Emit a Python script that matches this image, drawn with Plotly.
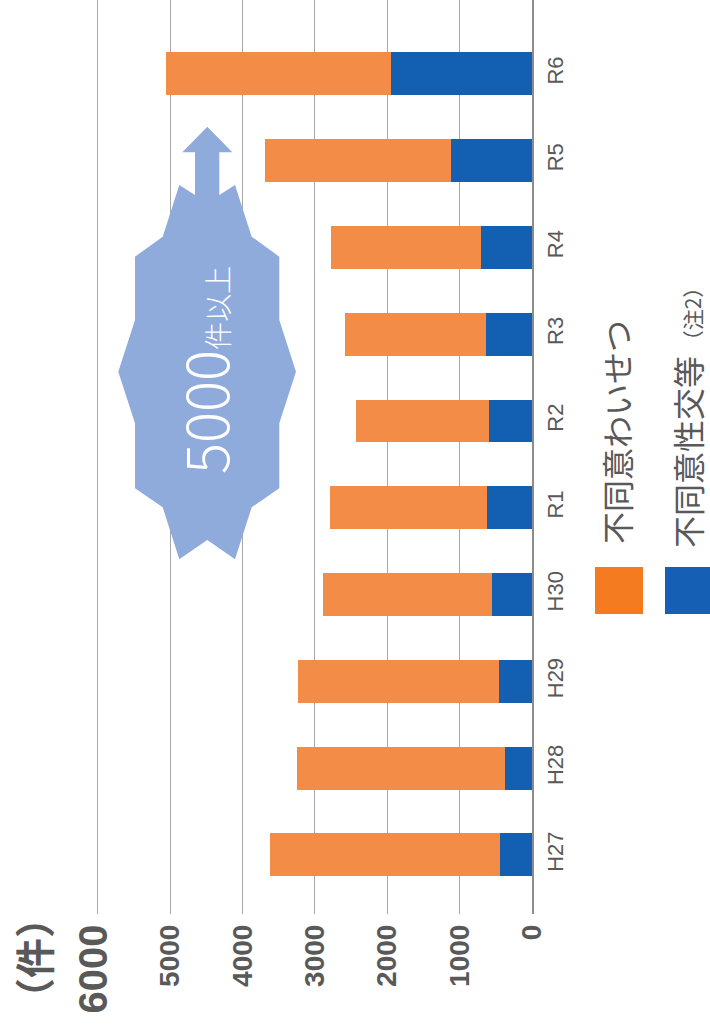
import plotly.graph_objects as go

# ---- data ----
years = ["H27", "H28", "H29", "H30", "R1", "R2", "R3", "R4", "R5", "R6"]
fudoi_seiko = [442, 373, 452, 548, 626, 590, 635, 700, 1123, 1952]      # blue
fudoi_waisetsu = [3177, 2869, 2776, 2334, 2164, 1845, 1944, 2076, 2574, 3103]  # orange
x_ticks = [0, 1000, 2000, 3000, 4000, 5000, 6000]
x_tick_text = ["0", "1000", "2000", "3000", "4000", "5000",
               "<span style='font-size:40px'>6000</span>"]
legend_names = ["不同意わいせつ", "不同意性交等"]

W, H = 710, 1028
def PX(x):
    return x / W
def PY(y):
    return 1 - y / H

BAR_ORANGE = "#F38C46"
BAR_BLUE = "#135FB2"
GRID = "#A8A8A8"
TXT = "#595959"

fig = go.Figure()
fig.add_trace(go.Bar(y=years, x=fudoi_seiko, orientation="h", name=legend_names[1],
                     marker=dict(color=BAR_BLUE, line=dict(width=0))))
fig.add_trace(go.Bar(y=years, x=fudoi_waisetsu, orientation="h", name=legend_names[0],
                     marker=dict(color=BAR_ORANGE, line=dict(width=0))))

# value axis: 0 at px 532, 72.35 px per 1000
x_left_px = 532 - 6050 * 0.07235
fig.update_layout(
    width=W, height=H,
    margin=dict(l=0, r=0, t=0, b=0),
    paper_bgcolor="white", plot_bgcolor="white",
    barmode="stack", bargap=0.505,
    showlegend=False,
    xaxis=dict(domain=[PX(x_left_px), PX(532)], range=[6050, 0],
               tickvals=x_ticks, ticktext=x_tick_text, tickangle=-90,
               showgrid=True, gridcolor=GRID, gridwidth=1.3,
               zeroline=False, showline=False, ticks="",
               tickfont=dict(family="Liberation Sans, Arial", size=28, color=TXT, weight=700),
               ticklabelstandoff=4, automargin=False, fixedrange=True),
    yaxis=dict(domain=[PY(914), 1], range=[-0.68, 9.85], side="right",
               type="category", tickangle=-90, showgrid=False, zeroline=False,
               showline=True, linecolor="#8C8C8C", linewidth=1.5, ticks="",
               tickfont=dict(family="Liberation Sans, Arial", size=22, color=TXT),
               ticklabelstandoff=3, automargin=False, fixedrange=True),
)

# arrow / badge shape "5000件以上"
pts = [(179.3, 185), (162.7, 236.7), (135, 256.7), (135, 320), (118.3, 371.7),
       (135, 423.3), (135, 488.3), (162.7, 507.3), (179.3, 559.3), (207.3, 540),
       (235, 559.3), (251.7, 507.3), (279.3, 488.3), (279.3, 423.3), (296, 371.7),
       (279.3, 320), (279.3, 256.7), (251.7, 236.7), (235, 185), (219.3, 195),
       (219.3, 152.3), (232.3, 152.3), (207.3, 126.7), (182.3, 152.3), (195, 152.3),
       (195, 195)]
path = "M " + " L ".join(f"{PX(x):.5f},{PY(y):.5f}" for x, y in pts) + " Z"
fig.add_shape(type="path", path=path, xref="paper", yref="paper",
              fillcolor="#8FABDC", line=dict(width=0), layer="above")

fig.add_annotation(x=PX(204), y=PY(370), xref="paper", yref="paper",
                   text="5000<span style='font-size:28px'>件以上</span>",
                   textangle=-90, showarrow=False, xanchor="center", yanchor="middle",
                   font=dict(family="Noto Sans CJK JP", size=58, color="white", weight=300))

# legend (rotated)
fig.add_shape(type="rect", xref="paper", yref="paper",
              x0=PX(595), x1=PX(643), y0=PY(614), y1=PY(567),
              fillcolor="#F57B20", line=dict(width=0))
fig.add_shape(type="rect", xref="paper", yref="paper",
              x0=PX(665), x1=PX(720), y0=PY(614), y1=PY(567),
              fillcolor="#1560B4", line=dict(width=0))
fig.add_annotation(x=PX(616), y=PY(432), xref="paper", yref="paper",
                   text=legend_names[0], textangle=-90, showarrow=False,
                   xanchor="center", yanchor="middle",
                   font=dict(family="Noto Sans CJK JP", size=32, color=TXT))
fig.add_annotation(x=PX(687), y=PY(413), xref="paper", yref="paper",
                   text=legend_names[1] + "<span style='font-size:21px'> （注2）</span>",
                   textangle=-90, showarrow=False, xanchor="center", yanchor="middle",
                   font=dict(family="Noto Sans CJK JP", size=32, color=TXT))

# unit label
fig.add_annotation(x=PX(33), y=PY(958), xref="paper", yref="paper",
                   text="（件）", textangle=-90, showarrow=False,
                   xanchor="center", yanchor="middle",
                   font=dict(family="Noto Sans CJK JP", size=40, color=TXT, weight=700))

fig.write_html("out.html", config={"displayModeBar": False},
               post_script="document.body.style.margin='0';document.body.style.overflow='hidden';")
